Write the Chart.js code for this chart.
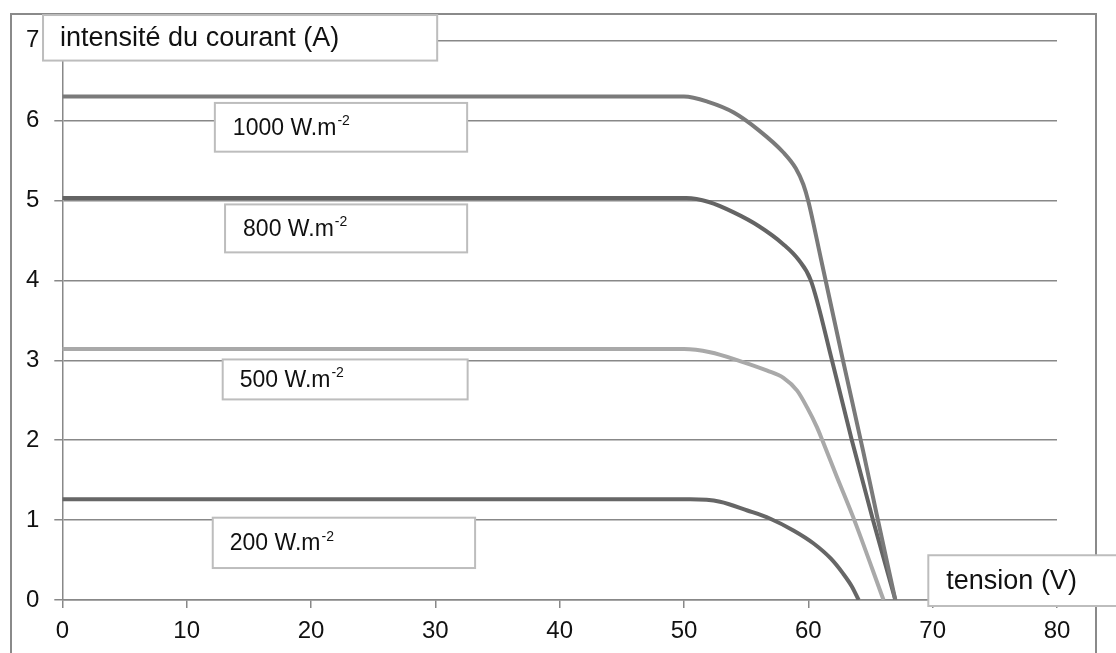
<!DOCTYPE html>
<html>
<head>
<meta charset="utf-8">
<script src="https://cdn.jsdelivr.net/npm/chart.js@4"></script>
<style>
  html, body { margin: 0; padding: 0; background: #fff; }
  canvas { display: block; }
</style>
</head>
<body>
<canvas id="ivChart" width="1116" height="653"></canvas>
<script>
// I-V curves of a PV module for four irradiance levels
const irradiance = [1000, 800, 500, 200];

const voltage1000 = [0, 50, 52, 54, 56, 58, 59, 59.6, 60.0, 61.0, 62.8, 64.4, 65.5, 67.0];
const current1000 = [6.30, 6.30, 6.23, 6.10, 5.88, 5.60, 5.40, 5.20, 4.99, 4.28, 2.99, 1.87, 1.07, 0];

const voltage800 = [0, 50.2, 52, 54, 56, 58, 59.2, 60.2, 61.9, 63.5, 65.2, 67.0];
const current800 = [5.03, 5.03, 4.98, 4.85, 4.68, 4.45, 4.26, 4.00, 3.00, 2.00, 1.00, 0];

const voltage500 = [0, 50, 52.1, 54.5, 56.7, 58.0, 59.1, 59.9, 60.7, 61.2, 62.3, 63.6, 66.05];
const current500 = [3.14, 3.14, 3.10, 2.99, 2.87, 2.78, 2.62, 2.41, 2.16, 1.97, 1.54, 1.04, 0];

const voltage200 = [0, 50.5, 52.9, 55.1, 56.9, 58.8, 60.4, 61.8, 62.8, 63.5, 64.05];
const current200 = [1.26, 1.26, 1.23, 1.12, 1.02, 0.87, 0.71, 0.52, 0.33, 0.17, 0];

const xTicks = [0, 10, 20, 30, 40, 50, 60, 70, 80];
const yTicks = [0, 1, 2, 3, 4, 5, 6, 7];

const FONT = '"Liberation Sans", Arial, sans-serif';

const toPoints = (xs, ys) => xs.map((v, i) => ({ x: v, y: ys[i] }));

const curves = [
    { v: voltage1000, i: current1000, color: '#7a7a7a' },
    { v: voltage800, i: current800, color: '#646464' },
    { v: voltage500, i: current500, color: '#a9a9a9' },
    { v: voltage200, i: current200, color: '#666666' }
];

// text boxes, placed in axis units
const boxes = [
    { x0: -1.55, x1: 30.15, y0: 7.32, y1: 6.75, text: 'intensité du courant (A)', size: 27, pad: 17 },
    { x0: 12.27, x1: 32.56, y0: 6.22, y1: 5.61, text: irradiance[0] + ' W.m', sup: '-2', size: 23, pad: 18 },
    { x0: 13.09, x1: 32.56, y0: 4.95, y1: 4.35, text: irradiance[1] + ' W.m', sup: '-2', size: 23, pad: 18 },
    { x0: 12.9, x1: 32.6, y0: 3.01, y1: 2.51, text: irradiance[2] + ' W.m', sup: '-2', size: 23, pad: 17 },
    { x0: 12.1, x1: 33.2, y0: 1.03, y1: 0.40, text: irradiance[3] + ' W.m', sup: '-2', size: 23, pad: 17 },
    { x0: 69.65, x1: 85.5, y0: 0.56, y1: -0.075, text: 'tension (V)', size: 27, pad: 18 }
];

const framePlugin = {
    id: 'frame',
    beforeDraw(chart) {
        const ctx = chart.ctx;
        ctx.save();
        ctx.fillStyle = '#fff';
        ctx.fillRect(0, 0, chart.width, chart.height);
        ctx.strokeStyle = '#8a8a8a';
        ctx.lineWidth = 2;
        ctx.beginPath();
        ctx.moveTo(11, chart.height);
        ctx.lineTo(11, 14);
        ctx.lineTo(1096, 14);
        ctx.lineTo(1096, chart.height);
        ctx.stroke();
        ctx.restore();
    },
    afterDraw(chart) {
        const { ctx, scales: { x, y } } = chart;
        ctx.save();
        boxes.forEach(b => {
            const l = x.getPixelForValue(b.x0);
            const r = x.getPixelForValue(b.x1);
            const t = y.getPixelForValue(b.y0);
            const btm = y.getPixelForValue(b.y1);
            ctx.fillStyle = '#fff';
            ctx.fillRect(l, t, r - l, btm - t);
            ctx.strokeStyle = '#bdbdbd';
            ctx.lineWidth = 2;
            ctx.strokeRect(l, t, r - l, btm - t);

            const mid = (t + btm) / 2 + 1;
            ctx.fillStyle = '#111';
            ctx.textBaseline = 'middle';
            ctx.textAlign = 'left';
            ctx.font = `${b.size}px ${FONT}`;
            ctx.fillText(b.text, l + b.pad, mid);
            if (b.sup) {
                const w = ctx.measureText(b.text).width;
                ctx.font = `${Math.round(b.size * 0.62)}px ${FONT}`;
                ctx.fillText(b.sup, l + b.pad + w + 1, mid - 7);
            }
        });
        ctx.restore();
    }
};

new Chart(document.getElementById('ivChart'), {
    type: 'scatter',
    data: {
        datasets: curves.map((c, k) => ({
            label: irradiance[k] + ' W.m-2',
            data: toPoints(c.v, c.i),
            showLine: true,
            borderColor: c.color,
            backgroundColor: c.color,
            borderWidth: 4,
            pointRadius: 0,
            cubicInterpolationMode: 'monotone'
        }))
    },
    options: {
        responsive: false,
        animation: false,
        devicePixelRatio: 1,
        layout: { padding: { left: 0, top: 40.6, right: 59, bottom: 0 } },
        plugins: {
            legend: { display: false },
            tooltip: { enabled: false }
        },
        scales: {
            x: {
                type: 'linear',
                min: 0,
                max: 80,
                afterFit: s => { s.height = 53; },
                afterBuildTicks: s => { s.ticks = xTicks.map(v => ({ value: v })); },
                grid: { drawOnChartArea: false, drawTicks: true, tickLength: 8, color: '#888', lineWidth: 1.5 },
                border: { display: true, color: '#888', width: 1.5 },
                ticks: { color: '#111', padding: 9, maxRotation: 0, font: { family: FONT, size: 24 } }
            },
            y: {
                type: 'linear',
                min: 0,
                max: 7,
                afterFit: s => { s.width = 62.3; },
                afterBuildTicks: s => { s.ticks = yTicks.map(v => ({ value: v })); },
                grid: { drawOnChartArea: true, drawTicks: true, tickLength: 8, color: '#888', lineWidth: 1.5 },
                border: { display: true, color: '#888', width: 1.5 },
                ticks: { color: '#111', padding: 15, font: { family: FONT, size: 24 } }
            }
        }
    },
    plugins: [framePlugin]
});
</script>
</body>
</html>
